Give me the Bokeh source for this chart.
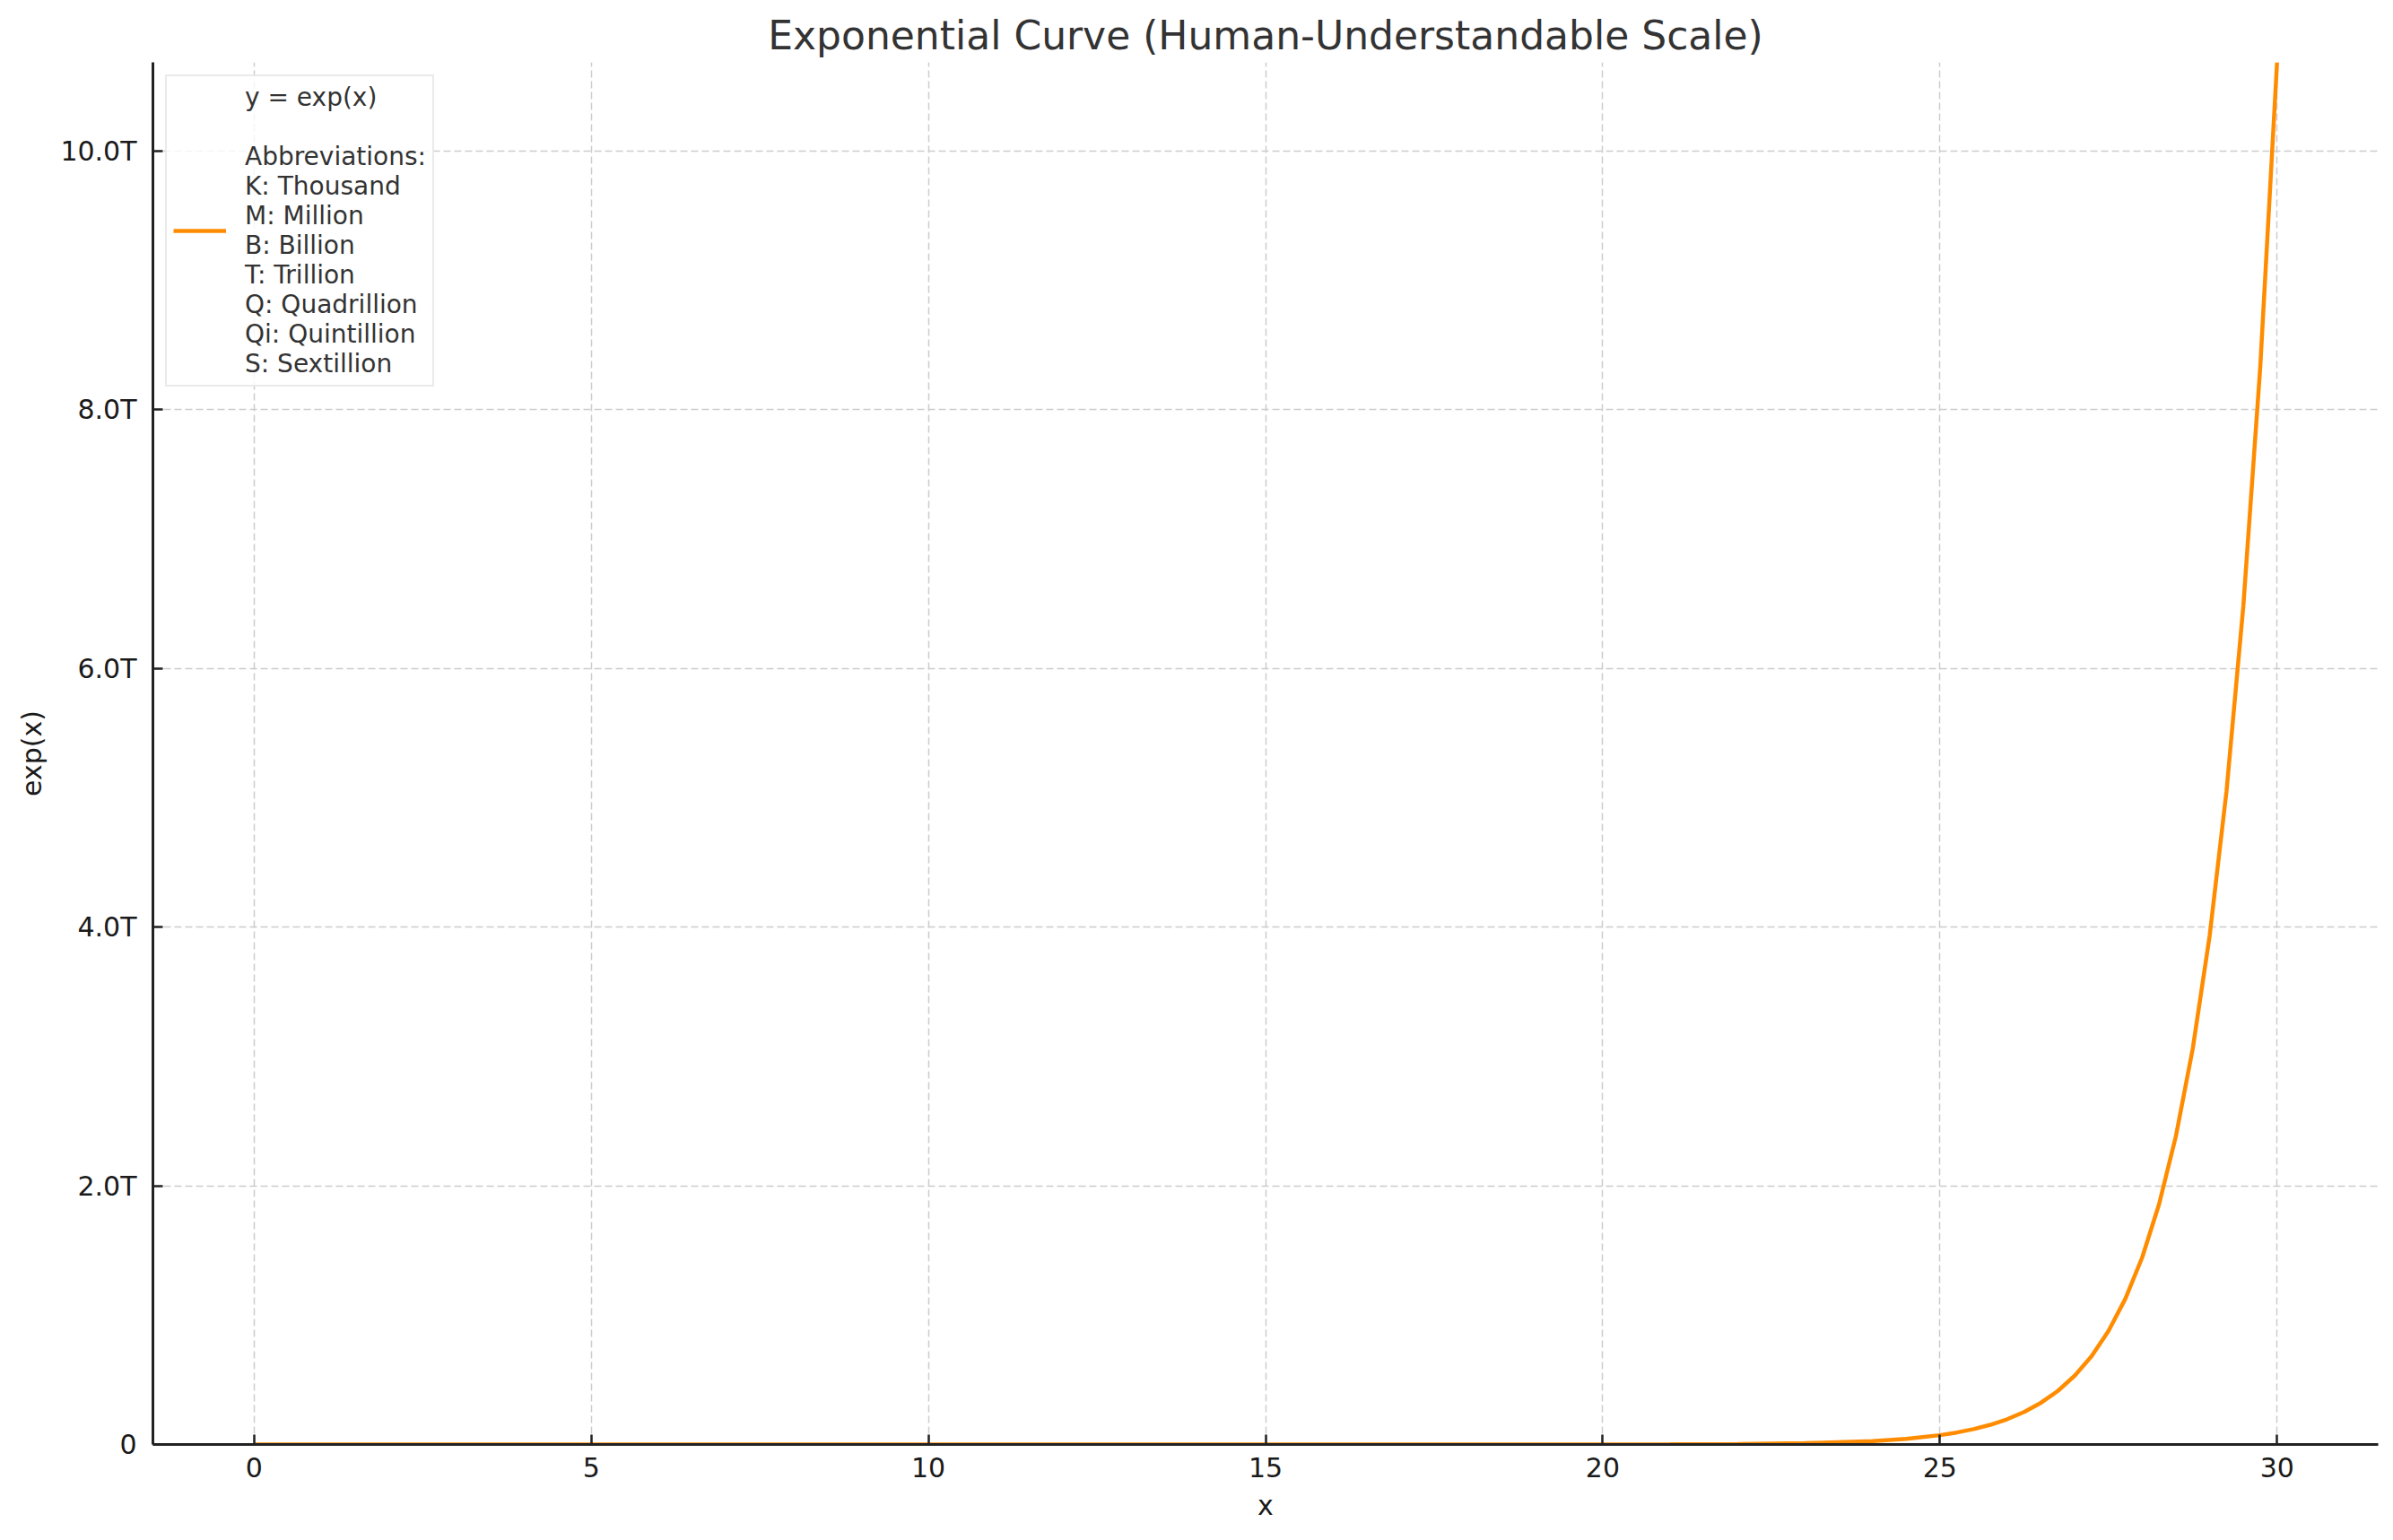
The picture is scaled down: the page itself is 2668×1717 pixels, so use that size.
from bokeh.plotting import figure
from bokeh.models import Range1d, FixedTicker, Legend, LegendItem
from bokeh.embed import file_html
from bokeh.resources import INLINE

# values (y = exp(x))
x_vals = [0, 1, 2, 3, 4, 5, 6, 7, 8, 9, 10, 11, 12, 13, 14, 15, 16, 17, 18, 19,
          20, 21, 22, 23, 24, 24.5, 25, 25.25, 25.5, 25.75, 26, 26.25, 26.5, 26.75,
          27, 27.25, 27.5, 27.75, 28, 28.25, 28.5, 28.75, 29, 29.25, 29.5, 29.75, 30]
y_vals = [1, 2.72, 7.39, 20.1, 54.6, 148, 403, 1097, 2981, 8103, 22026, 59874,
          162755, 442413, 1.2026e6, 3.269e6, 8.886e6, 2.4155e7, 6.566e7, 1.785e8,
          4.852e8, 1.319e9, 3.585e9, 9.745e9, 2.649e10, 4.367e10, 7.2e10, 9.25e10,
          1.187e11, 1.524e11, 1.957e11, 2.513e11, 3.227e11, 4.143e11, 5.32e11,
          6.83e11, 8.77e11, 1.126e12, 1.446e12, 1.857e12, 2.384e12, 3.061e12,
          3.931e12, 5.048e12, 6.482e12, 8.323e12, 1.0686e13]

x_ticks = [0, 5, 10, 15, 20, 25, 30]
y_ticks = [0, 2e12, 4e12, 6e12, 8e12, 10e12]
y_tick_labels = ["0", "2.0T", "4.0T", "6.0T", "8.0T", "10.0T"]

legend_text = "\n".join([
    "y = exp(x)",
    "",
    "Abbreviations:",
    "K: Thousand",
    "M: Million",
    "B: Billion",
    "T: Trillion",
    "Q: Quadrillion",
    "Qi: Quintillion",
    "S: Sextillion",
])

FONT = "DejaVu Sans"

p = figure(width=2652, height=1701, output_backend="svg", toolbar_location=None,
           title="Exponential Curve (Human-Understandable Scale)",
           x_axis_label="x", y_axis_label="exp(x)",
           x_range=Range1d(-1.5, 31.5), y_range=Range1d(0, 1.0686e13),
           min_border_left=170, min_border_right=1, min_border_top=69,
           min_border_bottom=91)

p.title.text_font = FONT
p.title.text_font_size = "44px"
p.title.text_font_style = "normal"
p.title.text_color = "#333333"
p.title.align = "center"
p.title.standoff = 10

p.outline_line_color = None
p.background_fill_color = "white"

for ax in (p.xaxis[0], p.yaxis[0]):
    ax.axis_label_text_font = FONT
    ax.axis_label_text_font_size = "30px"
    ax.axis_label_text_font_style = "normal"
    ax.axis_label_text_color = "#1a1a1a"
    ax.major_label_text_font = FONT
    ax.major_label_text_font_size = "30px"
    ax.major_label_text_color = "#1a1a1a"
    ax.axis_line_color = "#222222"
    ax.axis_line_width = 3
    ax.major_tick_line_color = "#222222"
    ax.major_tick_line_width = 2.5
    ax.major_tick_out = 0
    ax.major_tick_in = 11
    ax.minor_tick_line_color = None

p.xaxis.ticker = FixedTicker(ticks=x_ticks)
p.yaxis.ticker = FixedTicker(ticks=y_ticks)
p.yaxis.major_label_overrides = dict(zip(y_ticks, y_tick_labels))
p.xaxis.major_label_standoff = 14
p.yaxis.major_label_standoff = 18
p.xaxis.axis_label_standoff = 11
p.yaxis.axis_label_standoff = 11

for g in (p.xgrid[0], p.ygrid[0]):
    g.grid_line_color = "#cccccc"
    g.grid_line_width = 1.5
    g.grid_line_dash = "8 4"

curve = p.line(x_vals, y_vals, line_color="#ff8c00", line_width=4.5)

legend = Legend(items=[LegendItem(label=legend_text, renderers=[curve])],
                location="top_left", margin=14, padding=7, spacing=0,
                glyph_width=59, label_standoff=21,
                label_text_font=FONT, label_text_font_size="28px",
                label_text_color="#333333",
                border_line_color="#d6d6d6", border_line_width=2,
                background_fill_color="white", background_fill_alpha=0.8)
p.add_layout(legend)

open("out.html", "w").write(file_html(p, INLINE))
